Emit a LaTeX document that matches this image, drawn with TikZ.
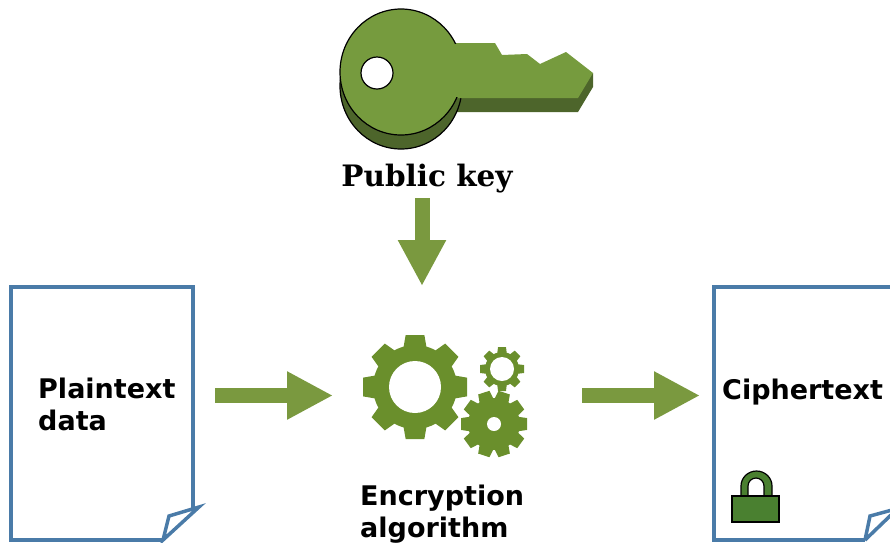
\documentclass[tikz,border=0pt]{standalone}
\usepackage{fontspec}
\setmainfont{DejaVu Sans}
\newfontfamily\serifbold{DejaVu Serif}
\usetikzlibrary{arrows.meta}
\definecolor{keygreen}{HTML}{769B3E}
\definecolor{keydark}{HTML}{4D652B}
\definecolor{arrowgreen}{HTML}{7A993F}
\definecolor{geargreen}{HTML}{6A8F2C}
\definecolor{docblue}{HTML}{4A7BA8}
\definecolor{lockgreen}{HTML}{4A8030}
\newcommand{\mygear}[6]{%
  \fill[geargreen] (#1,#2) circle[radius=#4];
  \foreach \ang in {1,...,#6}{
    \fill[geargreen,shift={(#1,#2)},rotate=\ang*360/#6]
      (#4-2,-#3*0.22) -- (#3,-#3*0.18) -- (#3,#3*0.18) -- (#4-2,#3*0.22) -- cycle;
  }
  \fill[white] (#1,#2) circle[radius=#5];
}
\tikzset{
  lbl/.style={font=\fontsize{27}{32}\selectfont\bfseries,text=black,inner sep=0pt,align=left,anchor=north west},
  doc/.style={draw=docblue,line width=3.5pt,line join=miter},
  flow/.style={draw=arrowgreen,line width=15pt,-{Triangle[length=46pt,width=45pt]}},
  keyline/.style={draw=black,line width=1.2pt}
}
\begin{document}
\begin{tikzpicture}[x=1pt,y=-1pt]
\useasboundingbox (0,0) rectangle (890,542);
% key
\fill[keydark] (450,84) -- (578,84) -- (593,73) -- (593,87) -- (578,112) -- (450,112) -- cycle;
\draw[keyline,fill=keydark] (401,86) ellipse[x radius=61,y radius=63];
\fill[keygreen] (450,43) -- (495,43) -- (502,55) -- (527,54) -- (540,64) -- (566,52) -- (593,73) -- (578,98) -- (450,98) -- cycle;
\draw[keyline,fill=keygreen] (401,72) ellipse[x radius=61,y radius=63];
\fill[keygreen] (445,43.6) rectangle (470,97.4);
\draw[keyline,fill=white] (377,73) circle[radius=16];
\node[inner sep=0pt,font=\serifbold\fontsize{29.5}{32}\selectfont\bfseries] (pub) at (427,179) {Public key};
% documents
\draw[doc] (193,508) -- (193,287) -- (11,287) -- (11,540) -- (163,540);
\draw[doc] (163,540) -- (169,516) -- (199,507) -- cycle;
\draw[doc] (890,287) -- (714,287) -- (714,540) -- (865,540);
\draw[doc] (865,540) -- (870,516) -- (892,510);
\draw[doc] (865,540) -- (892,514);
\node[lbl] (plain) at (38,378) {Plaintext\\data};
\node[lbl] (cipher) at (722,379) {Ciphertext};
% gears
\mygear{415}{387}{52}{42}{26}{8}
\mygear{502}{369}{22}{17}{12}{8}
\mygear{494}{424}{33}{26}{7}{10}
\node[lbl] (enc) at (360,485) {Encryption\\algorithm};
% lock
\draw[draw=black,line width=1.2pt,fill=lockgreen,even odd rule]
  (741,497) -- (741,486) arc[start angle=180,end angle=360,x radius=15.5,y radius=15] -- (772,497) -- cycle
  (748,497) -- (748,486) arc[start angle=180,end angle=360,x radius=8,y radius=8] -- (764,497) -- cycle;
\draw[draw=black,line width=1.2pt,fill=lockgreen] (732,496) rectangle (779,522);
% arrows
\coordinate (a1) at (422,198);
\coordinate (a2) at (422,286);
\coordinate (b1) at (215,395.5);
\coordinate (b2) at (333,395.5);
\coordinate (c1) at (582,395.5);
\coordinate (c2) at (700,395.5);
\draw[flow] (a1) -- (a2);
\draw[flow] (b1) -- (b2);
\draw[flow] (c1) -- (c2);
\end{tikzpicture}
\end{document}
